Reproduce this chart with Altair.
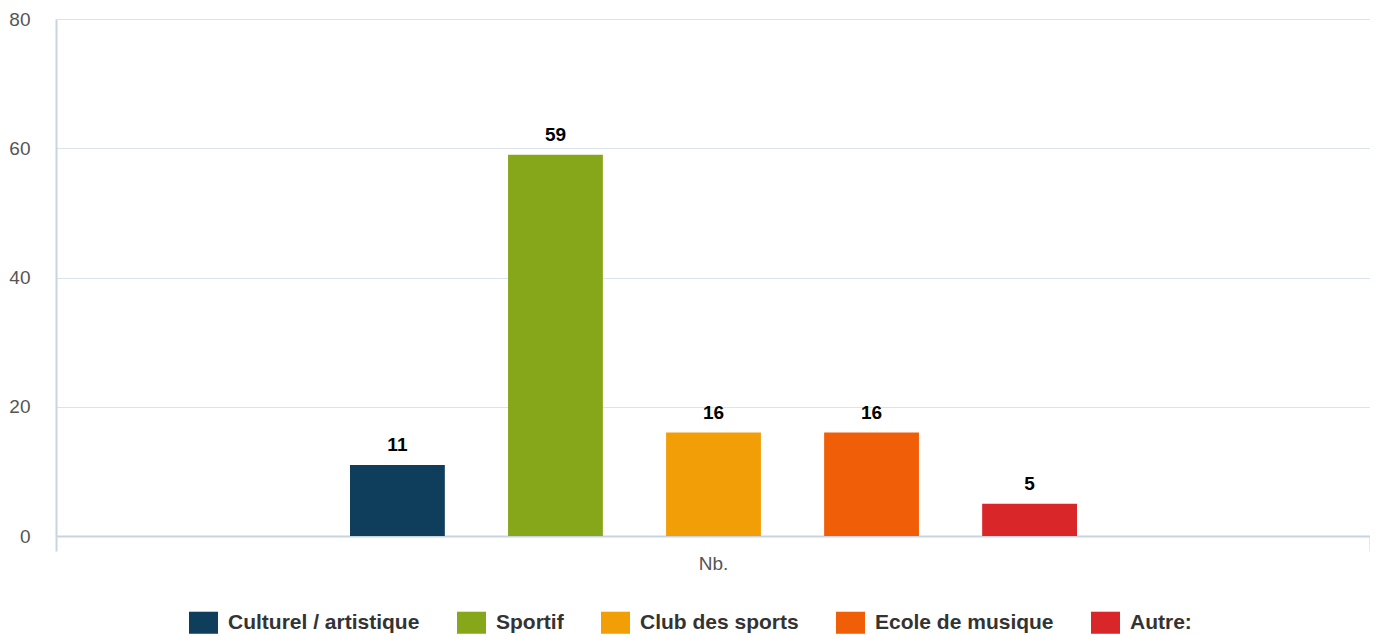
import altair as alt
import pandas as pd

categories = ["Culturel / artistique", "Sportif", "Club des sports", "Ecole de musique", "Autre:"]
values = [11, 59, 16, 16, 5]
colors = ["#0f3d5c", "#87a71b", "#f29e06", "#f05e08", "#d92628"]
group = "Nb."

df = pd.DataFrame({"group": [group] * len(categories), "cat": categories, "value": values})

x = alt.X("group:N", title=group,
          scale=alt.Scale(paddingInner=0, paddingOuter=0),
          axis=alt.Axis(labels=False, tickBand="extent", ticks=True, tickSize=15,
                        tickColor="#c8d4e0", tickWidth=2, domainColor="#c8d4e0", domainWidth=2,
                        titleFontSize=19, titleFontWeight="normal", titleColor="#555555",
                        titlePadding=2))
xo = alt.XOffset("cat:N", sort=categories,
                 scale=alt.Scale(paddingInner=0.4, paddingOuter=0, range=[294, 1021]))
y = alt.Y("value:Q", title=None,
          scale=alt.Scale(domain=[0, 80]),
          axis=alt.Axis(values=[0, 20, 40, 60, 80], ticks=False, domain=True,
                        domainColor="#c8d4e0", domainWidth=2,
                        gridColor="#dde3ea", gridWidth=1,
                        labelColor="#555555", labelFontSize=19, labelPadding=26))

bars = alt.Chart(df).mark_bar().encode(
    x=x, xOffset=xo, y=y,
    color=alt.Color("cat:N", sort=categories,
                    scale=alt.Scale(domain=categories, range=colors),
                    legend=alt.Legend(orient="none", direction="horizontal", title=None,
                                      legendX=133, legendY=589,
                                      labelFontWeight="bold", labelFontSize=21, labelColor="#333333",
                                      labelLimit=0,
                                      symbolType="M-1,-0.76L1,-0.76L1,0.76L-1,0.76Z",
                                      symbolSize=841, symbolStrokeWidth=0, symbolOpacity=1,
                                      columnPadding=37, labelOffset=10)),
)

labels = alt.Chart(df).mark_text(fontWeight="bold", fontSize=19, color="#000000", dy=-14,
                                 baseline="alphabetic").encode(
    x=x, xOffset=xo, y=y, text="value:Q")

chart = (bars + labels).properties(
    width=1314, height=517,
    autosize=alt.AutoSizeParams(type="none"),
    padding={"left": 48, "top": 11, "right": 0, "bottom": 100},
).configure(font="Liberation Sans").configure_view(stroke=None)

chart.save("out.html", embed_options={"renderer": "svg", "actions": False})
